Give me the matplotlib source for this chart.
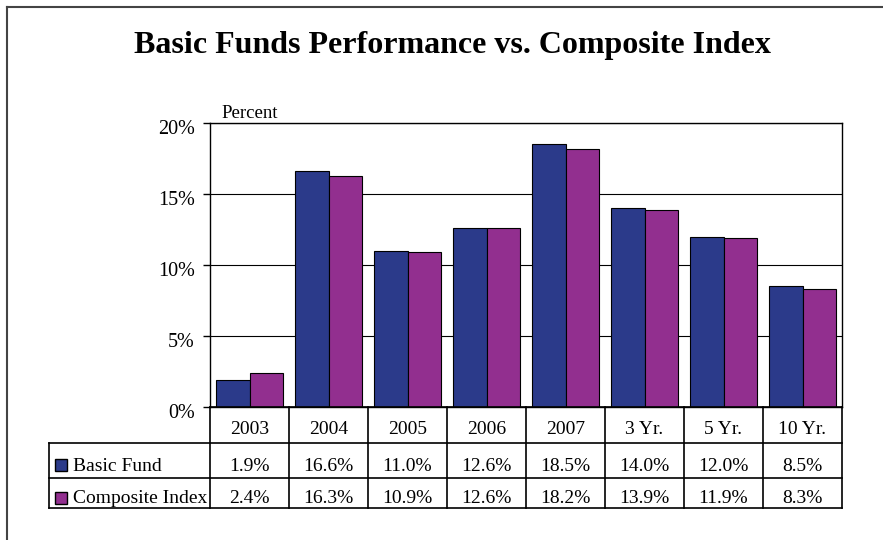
import numpy as np
import matplotlib.pyplot as plt
from matplotlib.lines import Line2D
from matplotlib.patches import Rectangle
from matplotlib.transforms import ScaledTranslation

periods = ['2003', '2004', '2005', '2006', '2007', '3 Yr.', '5 Yr.', '10 Yr.']
basic_fund = [1.9, 16.6, 11.0, 12.6, 18.5, 14.0, 12.0, 8.5]
composite_index = [2.4, 16.3, 10.9, 12.6, 18.2, 13.9, 11.9, 8.3]
series_names = ['Basic Fund', 'Composite Index']
yticks = [0, 5, 10, 15, 20]

blue = '#2b3a8a'
purple = '#922f8f'

plt.rcParams['font.family'] = ['Liberation Serif', 'DejaVu Serif']

W, H = 883, 540
fig = plt.figure(figsize=(W / 100, H / 100), dpi=100)


def px_box(x0, y0, x1, y1):
    # pixel box (top-left origin) -> figure fraction rect
    return [x0 / W, 1 - y1 / H, (x1 - x0) / W, (y1 - y0) / H]


# outer frame
fig.add_artist(Line2D([7 / W, 7 / W], [0, 1 - 7 / H], transform=fig.transFigure,
                      color='#444444', lw=1.5))
fig.add_artist(Line2D([7 / W, 1], [1 - 7 / H, 1 - 7 / H], transform=fig.transFigure,
                      color='#444444', lw=1.5))

fig.text(452 / W, 1 - 46 / H, 'Basic Funds Performance vs. Composite Index',
         fontsize=23, fontweight='bold', ha='center', va='center')

# bar chart
ax = fig.add_axes(px_box(210, 123, 842, 407))
x = np.arange(len(periods))
bw = 0.425
ax.bar(x - bw / 2, basic_fund, bw, color=blue, edgecolor='black', linewidth=0.8, zorder=3)
ax.bar(x + bw / 2, composite_index, bw, color=purple, edgecolor='black', linewidth=0.8, zorder=3)
ax.set_xlim(-0.5, len(periods) - 0.5)
ax.set_ylim(0, 20)
ax.set_xticks([])
ax.set_yticks(yticks)
ax.set_yticklabels([f'{v}%' for v in yticks], fontsize=14.5)
ax.tick_params(axis='y', direction='out', length=5, width=1, pad=6)
ax.yaxis.grid(True, color='black', linewidth=0.8)
ax.set_axisbelow(True)
for s in ax.spines.values():
    s.set_color('black')
    s.set_linewidth(1)
shift = ScaledTranslation(0, -4 / 100, fig.dpi_scale_trans)
for lbl in ax.get_yticklabels():
    lbl.set_transform(lbl.get_transform() + shift)
ax.text((221 - 210) / 632, 1 + 10 / 284, 'Percent', transform=ax.transAxes,
        fontsize=13.5, ha='left', va='center')

# data table under the chart
tab = fig.add_axes(px_box(49, 407, 842, 508))
lab_w = (210 - 49) / 79
left = -0.5 - lab_w
right = len(periods) - 0.5
row_edges = [0, 36, 70.5, 101]
tab.set_xlim(left, right)
tab.set_ylim(row_edges[-1], 0)
tab.axis('off')

lk = dict(color='black', lw=1.2, clip_on=False)
tab.plot([-0.5, right], [row_edges[0]] * 2, **lk)
for y in row_edges[1:]:
    tab.plot([left, right], [y, y], **lk)
tab.plot([left, left], [row_edges[1], row_edges[-1]], **lk)
for i in range(len(periods) + 1):
    tab.plot([i - 0.5, i - 0.5], [row_edges[0], row_edges[-1]], **lk)

centers = [(a + b) / 2 for a, b in zip(row_edges[:-1], row_edges[1:])]
text_y = [centers[0] + 4, centers[1] + 6, centers[2] + 6]
for i, p in enumerate(periods):
    tab.text(i, text_y[0], p, ha='center', va='center', fontsize=14)

rows = [basic_fund, composite_index]
colors = [blue, purple]
for r, (name, vals, c) in enumerate(zip(series_names, rows, colors)):
    yc = text_y[r + 1]
    tab.add_patch(Rectangle((left + 6 / 79, yc - 7), 12 / 79, 12, facecolor=c,
                            edgecolor='black', lw=1, clip_on=False))
    tab.text(left + 24 / 79, yc, name, ha='left', va='center', fontsize=14)
    for i, v in enumerate(vals):
        tab.text(i, yc, f'{v:.1f}%', ha='center', va='center', fontsize=14)

fig.savefig('out.png', dpi=100)
